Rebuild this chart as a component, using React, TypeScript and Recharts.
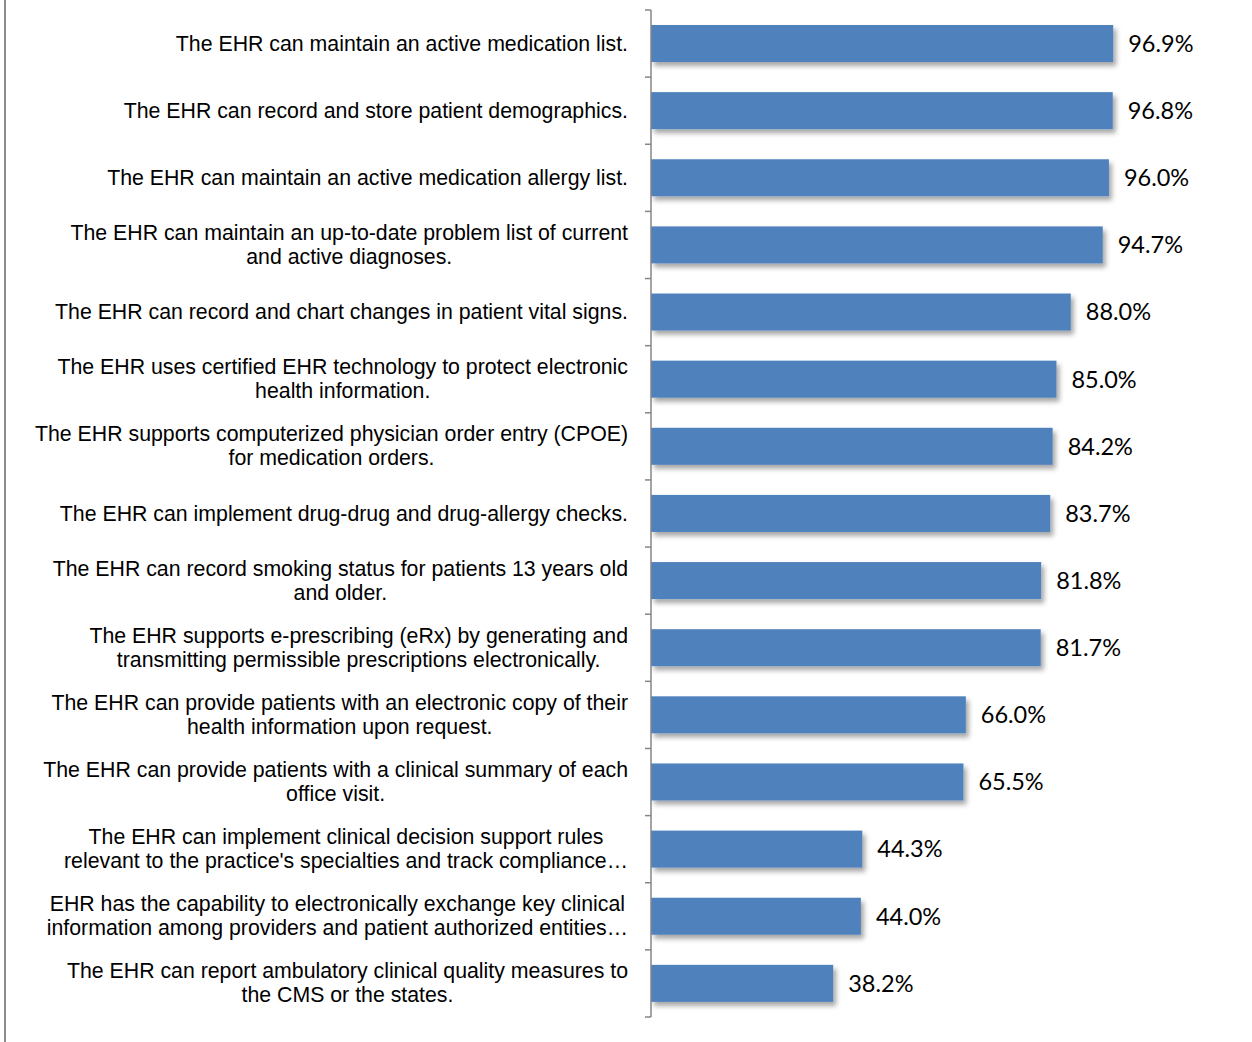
import React from 'react';
import { BarChart, Bar, XAxis, YAxis, LabelList } from 'recharts';

const measures: string[] = [
  'The EHR can maintain an active medication list.',
  'The EHR can record and store patient demographics.',
  'The EHR can maintain an active medication allergy list.',
  'The EHR can maintain an up-to-date problem list of current\nand active diagnoses.',
  'The EHR can record and chart changes in patient vital signs.',
  'The EHR uses certified EHR technology to protect electronic\nhealth information.',
  'The EHR supports computerized physician order entry (CPOE)\nfor medication orders.',
  'The EHR can implement drug-drug and drug-allergy checks.',
  'The EHR can record smoking status for patients 13 years old\nand older.',
  'The EHR supports e-prescribing (eRx) by generating and\ntransmitting permissible prescriptions electronically.',
  'The EHR can provide patients with an electronic copy of their\nhealth information upon request.',
  'The EHR can provide patients with a clinical summary of each\noffice visit.',
  "The EHR can implement clinical decision support rules\nrelevant to the practice's specialties and track compliance…",
  'EHR has the capability to electronically exchange key clinical\ninformation among providers and patient authorized entities…',
  'The EHR can report ambulatory clinical quality measures to\nthe CMS or the states.',
];

const percents: number[] = [96.9, 96.8, 96.0, 94.7, 88.0, 85.0, 84.2, 83.7, 81.8, 81.7, 66.0, 65.5, 44.3, 44.0, 38.2];

const data = measures.map((m, i) => ({ measure: m, pct: percents[i] }));

const W = 1252;
const H = 1042;
const TOP = 10;
const BOTTOM = 25;
const AXIS_X = 651;
const RIGHT = 124;
const BAND = (H - TOP - BOTTOM) / measures.length;
const AXIS_COLOR = '#868686';

const CategoryTick = (props: any) => {
  const { y, payload, index } = props;
  const lines: string[] = String(payload.value).split('\n');
  const boxW = 640;
  const boxH = 60;
  return (
    <g>
      <line x1={AXIS_X - 6} x2={AXIS_X} y1={y - BAND / 2} y2={y - BAND / 2} stroke={AXIS_COLOR} strokeWidth={1.5} />
      {index === measures.length - 1 && (
        <line x1={AXIS_X - 6} x2={AXIS_X} y1={y + BAND / 2} y2={y + BAND / 2} stroke={AXIS_COLOR} strokeWidth={1.5} />
      )}
      <foreignObject x={628 - boxW} y={y - boxH / 2} width={boxW} height={boxH} style={{ overflow: 'visible' }}>
        <div
          style={{
            width: boxW,
            height: boxH,
            display: 'flex',
            justifyContent: 'flex-end',
            alignItems: 'center',
          }}
        >
          <div
            style={{
              textAlign: 'center',
              fontFamily: '"Liberation Sans", Arial, sans-serif',
              fontSize: 21.3,
              lineHeight: '24px',
              color: '#000',
              whiteSpace: 'nowrap',
            }}
          >
            {lines.map((l, i) => (
              <div key={i}>{l}</div>
            ))}
          </div>
        </div>
      </foreignObject>
    </g>
  );
};

const ShadowBar = (props: any) => {
  const { x, y, width, height, fill } = props;
  return <rect x={x} y={y} width={width} height={height} fill={fill} filter="url(#barShadow)" />;
};

const App: React.FC = () => {
  return (
    <div style={{ position: 'absolute', left: 0, top: 0, width: W, height: H, background: '#fff' }}>
      <svg width={0} height={0} style={{ position: 'absolute' }}>
        <defs>
          <filter id="barShadow" x="-10%" y="-30%" width="130%" height="180%">
            <feDropShadow dx={3} dy={4} stdDeviation={2.5} floodColor="#000" floodOpacity={0.35} />
          </filter>
        </defs>
      </svg>
      <div style={{ position: 'absolute', left: 4, top: 0, width: 2, height: H, background: '#8c8c8c' }} />
      <BarChart
        width={W}
        height={H}
        data={data}
        layout="vertical"
        margin={{ top: TOP, right: RIGHT, left: 0, bottom: BOTTOM }}
        barSize={37}
      >
        <XAxis type="number" domain={[0, 100]} hide />
        <YAxis
          type="category"
          dataKey="measure"
          width={AXIS_X}
          tickLine={false}
          axisLine={{ stroke: AXIS_COLOR, strokeWidth: 1.5 }}
          tick={<CategoryTick />}
          interval={0}
        />
        <Bar dataKey="pct" fill="#4F81BD" isAnimationActive={false} shape={<ShadowBar />}>
          <LabelList
            dataKey="pct"
            position="right"
            offset={15}
            formatter={(v: any) => `${Number(v).toFixed(1)}%`}
            style={{ fontFamily: 'Lato, sans-serif', fontSize: 23.5, fill: '#000' }}
          />
        </Bar>
      </BarChart>
    </div>
  );
};

export default App;
